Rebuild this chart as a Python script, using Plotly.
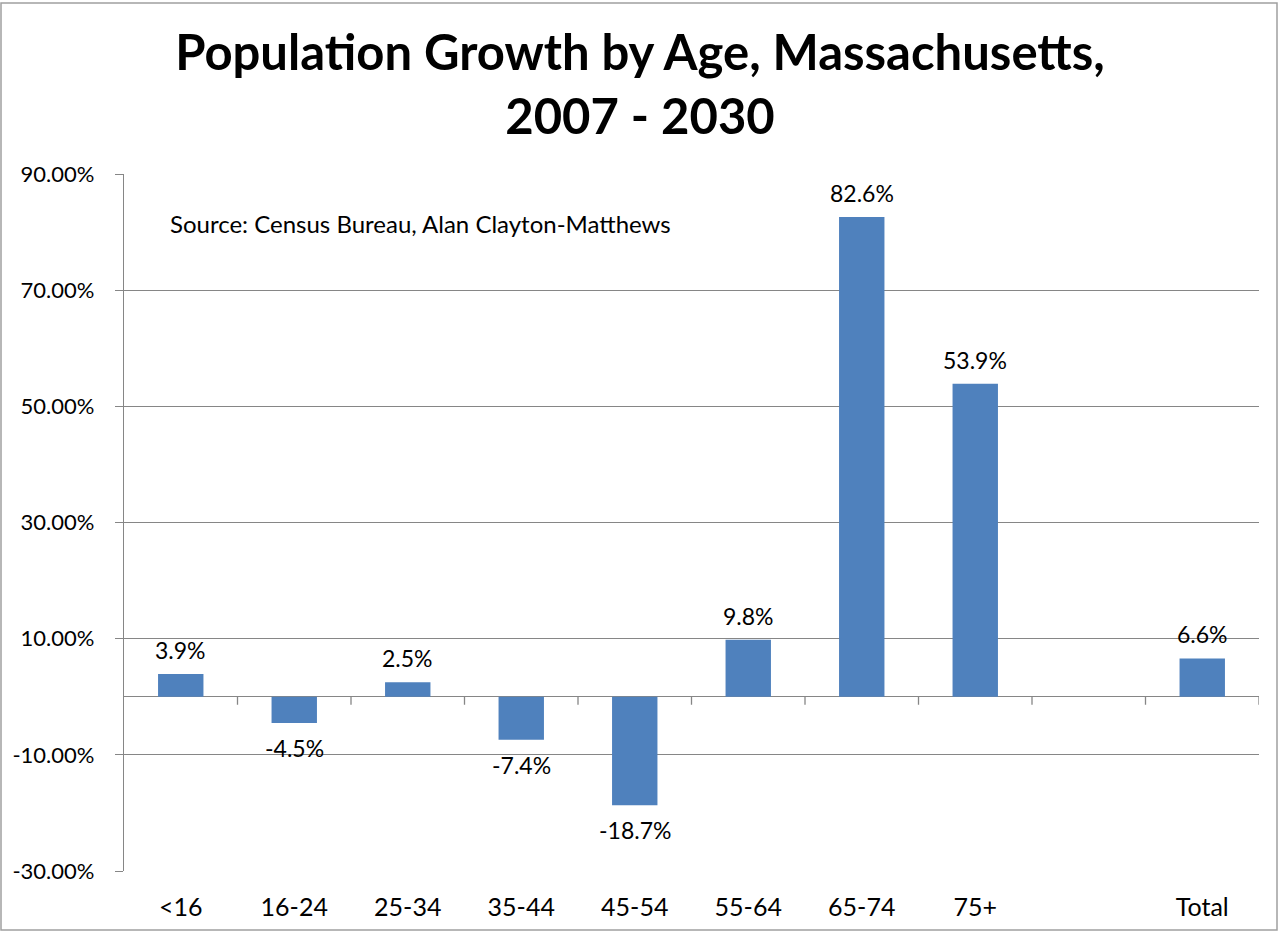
import plotly.graph_objects as go

categories = ["<16", "16-24", "25-34", "35-44", "45-54", "55-64", "65-74", "75+", "", "Total"]
growth = [3.9, -4.5, 2.5, -7.4, -18.7, 9.8, 82.6, 53.9, None, 6.6]
y_ticks = [-30, -10, 10, 30, 50, 70, 90]
y_tick_labels = ["-30.00%", "-10.00%", "10.00%", "30.00%", "50.00%", "70.00%", "90.00%"]

W, H = 1279, 932
L, R, T, B = 124, 20, 174, 61
FONT = "Lato"
GRID = "#868686"
BAR = "#4F81BD"

xs = list(range(len(categories)))
fig = go.Figure()
fig.add_trace(go.Bar(x=xs, y=growth, width=0.4, marker=dict(color=BAR, line=dict(width=0)),
                     hoverinfo="skip"))

for x, v in zip(xs, growth):
    if v is None:
        continue
    fig.add_annotation(x=x, y=v, xref="x", yref="y", text=f"{v:.1f}%", showarrow=False,
                       yshift=24 if v >= 0 else -25, font=dict(family=FONT, size=23, color="black"))

# category tick marks on the zero line
for i in range(len(categories)):
    fig.add_shape(type="line", xref="x", yref="y", x0=i + 0.5, x1=i + 0.5,
                  ysizemode="pixel", yanchor=0, y0=0, y1=-8,
                  line=dict(color=GRID, width=1.3))

pw = W - L - R
ph = H - T - B
# outer chart border (page pixels: x 1..1277, y 3..930)
fig.add_shape(type="rect", xref="paper", yref="paper",
              x0=(1 - L) / pw, x1=(1277 - L) / pw,
              y0=(H - B - 930) / ph, y1=(H - B - 3) / ph,
              line=dict(color="#A0A0A0", width=1.5), layer="below")

fig.add_annotation(x=(168 - L) / pw, y=(H - B - 223) / ph, xref="paper", yref="paper",
                   xanchor="left", yanchor="middle", showarrow=False,
                   text="Source: Census Bureau, Alan Clayton-Matthews",
                   font=dict(family=FONT, size=24, color="black"))

fig.update_layout(
    width=W, height=H,
    margin=dict(l=L, r=R, t=T, b=B, autoexpand=False),
    paper_bgcolor="white", plot_bgcolor="white",
    showlegend=False,
    title=dict(text="Population Growth by Age, Massachusetts,<br>2007 - 2030",
               x=640 / W, xanchor="center", y=1 - 70 / H, yanchor="middle",
               font=dict(family=FONT, size=49, color="black", weight="bold")),
    font=dict(family=FONT, size=23, color="black"),
)
fig.update_xaxes(range=[-0.5, len(categories) - 0.5], tickmode="array", tickvals=xs,
                 ticktext=categories, showgrid=False, zeroline=False, showline=False,
                 automargin=False,
                 ticks="", ticklabelstandoff=19, tickfont=dict(family=FONT, size=25, color="black"))
fig.update_yaxes(range=[-30, 90], tickmode="array", tickvals=y_ticks, ticktext=y_tick_labels,
                 showgrid=True, gridcolor=GRID, gridwidth=1.3,
                 zeroline=True, zerolinecolor=GRID, zerolinewidth=1.3,
                 showline=True, linecolor=GRID, linewidth=1.3,
                 ticks="outside", ticklen=8, tickcolor=GRID, tickwidth=1.3,
                 ticklabelstandoff=16, automargin=False,
                 tickfont=dict(family=FONT, size=22, color="black"))

fig.write_html("out.html", config={"displayModeBar": False},
               post_script="document.body.style.margin='0';document.body.style.overflow='hidden';")
